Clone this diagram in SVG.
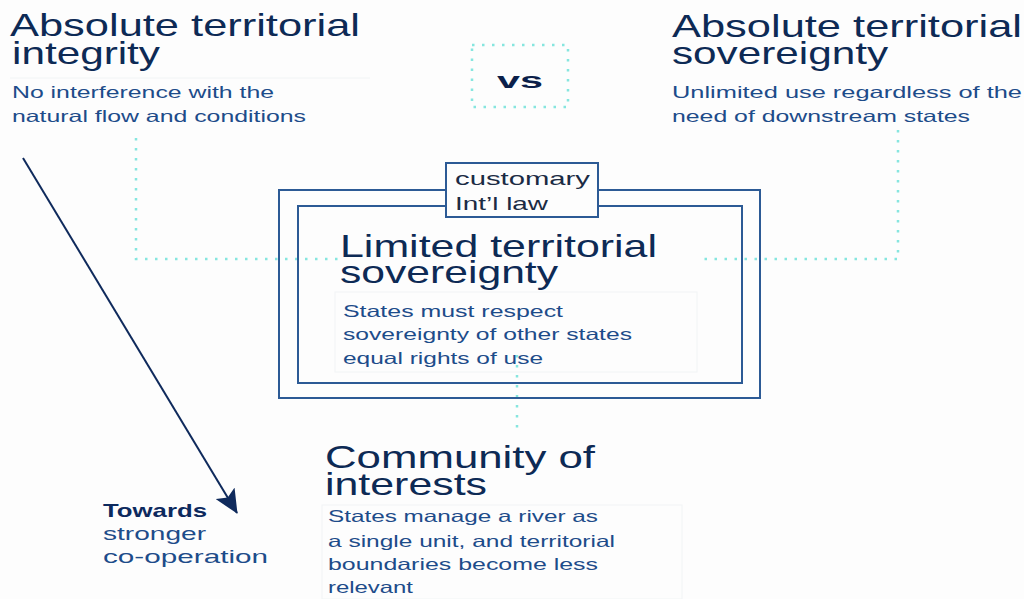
<svg xmlns="http://www.w3.org/2000/svg" width="1024" height="599" viewBox="0 0 1024 599">
<defs>
<style>
text{font-family:"Liberation Sans",Arial,sans-serif}
.h{font-size:32px;fill:#0d2a55}
.s{font-size:16.5px;fill:#1d4c8a}
.c{font-size:18.5px;fill:#1b2b44}
.t{font-size:19px;fill:#1d4c8a}
.b{font-weight:bold;fill:#0d2a5e}
.box{fill:none;stroke:#2c5a95;stroke-width:2}
.dot{fill:none;stroke:#86e6df;stroke-width:2.5;stroke-dasharray:2.5 7.5}
.faint{fill:none;stroke:#f1f4f5;stroke-width:1}
</style>
<marker id="ahb" viewBox="0 0 24 22" refX="23" refY="11" markerWidth="24" markerHeight="22" markerUnits="userSpaceOnUse" orient="auto">
<path d="M0,0 L24,11 L0,22 L5,11 z" fill="#0f2a5c"/>
</marker>
</defs>
<rect width="1024" height="599" fill="#fdfdfd"/>

<g id="connectors">
<polyline class="dot" points="136,138 136,259 338,259"/>
<polyline class="dot" points="898,130 898,259 697,259"/>
<line class="dot" x1="517" y1="355" x2="517" y2="430"/>
<line x1="23" y1="158" x2="237" y2="513" stroke="#0f2a5c" stroke-width="2" marker-end="url(#ahb)"/>
</g>

<g id="vs">
<rect class="dot" x="472" y="45" width="96" height="62"/>
<text x="497" y="88" font-size="22" font-weight="bold" fill="#0b1f4a" textLength="46" lengthAdjust="spacingAndGlyphs">vs</text>
</g>

<g id="absolute-integrity">
<line class="faint" x1="10" y1="78" x2="370" y2="78"/>
<text class="h" x="10" y="36" textLength="350" lengthAdjust="spacingAndGlyphs">Absolute territorial</text>
<text class="h" x="12" y="64" textLength="148" lengthAdjust="spacingAndGlyphs">integrity</text>
<text class="s" x="12" y="98" textLength="262" lengthAdjust="spacingAndGlyphs">No interference with the</text>
<text class="s" x="12" y="121.5" textLength="294" lengthAdjust="spacingAndGlyphs">natural flow and conditions</text>
</g>

<g id="absolute-sovereignty">
<text class="h" x="672" y="36.5" textLength="350" lengthAdjust="spacingAndGlyphs">Absolute territorial</text>
<text class="h" x="672" y="64" textLength="216" lengthAdjust="spacingAndGlyphs">sovereignty</text>
<text class="s" x="672" y="97.5" textLength="350" lengthAdjust="spacingAndGlyphs">Unlimited use regardless of the</text>
<text class="s" x="672" y="121.5" textLength="298" lengthAdjust="spacingAndGlyphs">need of downstream states</text>
</g>

<g id="limited-sovereignty">
<rect class="box" x="279" y="190" width="481" height="208"/>
<rect class="box" x="298" y="206" width="444" height="177"/>
<rect class="faint" x="335" y="292" width="362" height="80"/>
<text class="h" x="340" y="257" font-size="33" textLength="317" lengthAdjust="spacingAndGlyphs">Limited territorial</text>
<text class="h" x="340" y="283" font-size="33" textLength="218" lengthAdjust="spacingAndGlyphs">sovereignty</text>
<text class="s" x="343" y="316.5" textLength="220" lengthAdjust="spacingAndGlyphs">States must respect</text>
<text class="s" x="343" y="340" textLength="289" lengthAdjust="spacingAndGlyphs">sovereignty of other states</text>
<text class="s" x="343" y="363.5" textLength="200" lengthAdjust="spacingAndGlyphs">equal rights of use</text>
</g>

<g id="customary-law">
<rect x="446" y="163" width="152" height="54" fill="#fdfdfd" stroke="#2c5a95" stroke-width="2"/>
<text class="c" x="455" y="185" textLength="135" lengthAdjust="spacingAndGlyphs">customary</text>
<text class="c" x="455" y="210" textLength="93" lengthAdjust="spacingAndGlyphs">Int’l law</text>
</g>

<g id="community-of-interests">
<rect class="faint" x="322" y="505" width="360" height="94"/>
<text class="h" x="325" y="468" textLength="270" lengthAdjust="spacingAndGlyphs">Community of</text>
<text class="h" x="325" y="495" textLength="162" lengthAdjust="spacingAndGlyphs">interests</text>
<text class="s" x="328" y="522" textLength="270" lengthAdjust="spacingAndGlyphs">States manage a river as</text>
<text class="s" x="328" y="546.5" textLength="287" lengthAdjust="spacingAndGlyphs">a single unit, and territorial</text>
<text class="s" x="328" y="570" textLength="270" lengthAdjust="spacingAndGlyphs">boundaries become less</text>
<text class="s" x="328" y="593" textLength="85" lengthAdjust="spacingAndGlyphs">relevant</text>
</g>

<g id="towards">
<text class="t b" x="103" y="517" textLength="104" lengthAdjust="spacingAndGlyphs">Towards</text>
<text class="t" x="103" y="540" textLength="103" lengthAdjust="spacingAndGlyphs">stronger</text>
<text class="t" x="103" y="563" textLength="165" lengthAdjust="spacingAndGlyphs">co-operation</text>
</g>
</svg>
